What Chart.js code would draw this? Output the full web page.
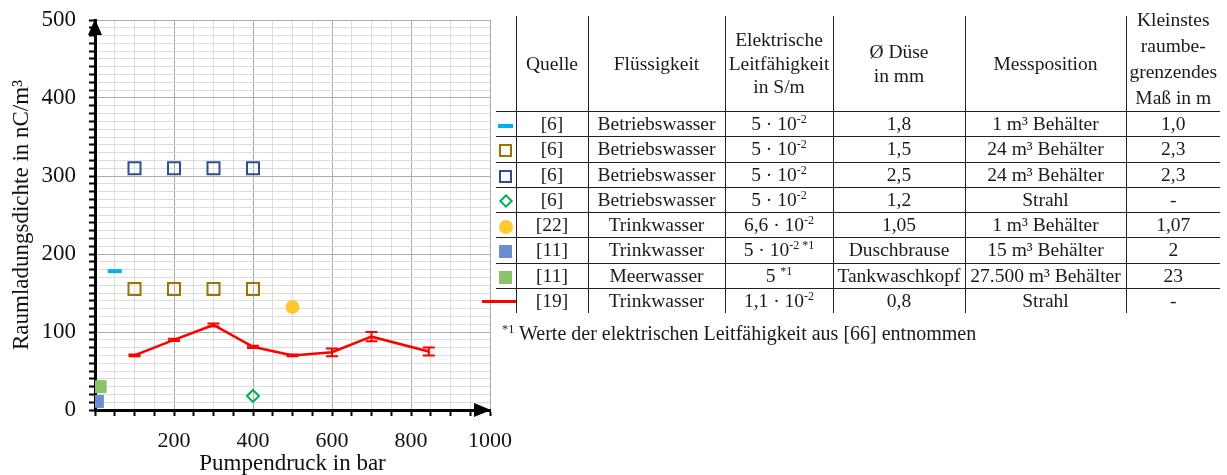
<!DOCTYPE html>
<html>
<head>
<meta charset="utf-8">
<script src="https://cdn.jsdelivr.net/npm/chart.js@4.4.1/dist/chart.umd.min.js"></script>
<style>
  body { margin: 0; background: #fff; width: 1227px; height: 475px; overflow: hidden; position: relative;
         font-family: "Liberation Serif", serif; color: #1a1a1a; }
  #wrap { position: absolute; left: 0; top: 0; width: 515px; height: 475px; }
  table { position: absolute; left: 496px; top: 16px; border-collapse: collapse; table-layout: fixed; font-size: 19.5px; }
  td, th { padding: 0; text-align: center; white-space: nowrap; font-weight: normal; }
  th { height: 95px; line-height: 23.5px; vertical-align: middle; }
  td { height: 24.25px; line-height: 24px; }
  td + td, th + th { border-left: 1px solid #222; }
  tbody td { border-top: 1px solid #222; }
  sup { font-size: 0.62em; line-height: 0; vertical-align: 0.55em; }
  .mk { position: relative; }
  .mk span { display: inline-block; vertical-align: middle; box-sizing: border-box; }
  th.top { vertical-align: top; }
  #kl { line-height: 26px; margin-top: -9px; margin-bottom: -20px; }
  #note { position: absolute; left: 502px; top: 322px; font-size: 20px; white-space: nowrap; }
</style>
</head>
<body>
<div id="wrap"><canvas id="c" width="515" height="475"></canvas></div>
<table id="tab"></table>
<div id="note"><sup>*1</sup> Werte der elektrischen Leitfähigkeit aus [66] entnommen</div>
<script>
// Pumpendruck (bar) / Raumladungsdichte (nC/m³)
const pressCyan = [50];
const chargeCyan = [178];
const pressBrown = [100, 200, 300, 400];
const chargeBrown = [155, 155, 155, 155];
const pressNavy = [100, 200, 300, 400];
const chargeNavy = [310, 310, 310, 310];
const pressDiamond = [400];
const chargeDiamond = [18];
const pressYellow = [500];
const chargeYellow = [132];
const pressBlue = [6];
const chargeBlue = [11];
const pressGreen = [13];
const chargeGreen = [30];
const pressRed = [100, 200, 300, 400, 500, 600, 700, 845];
const chargeRed = [70, 90, 109, 81, 70, 74, 94, 75];
const errRed = [1, 1.5, 2, 1.5, 1, 5, 6, 5];

const xTickLabels = [200, 400, 600, 800, 1000];
const yTickLabels = [0, 100, 200, 300, 400, 500];

// table
const headers = ['', 'Quelle', 'Flüssigkeit', 'Elektrische<br>Leitfähigkeit<br>in S/m', 'Ø Düse<br>in mm',
  'Messposition', '<div id="kl">Kleinstes<br>raumbe-<br>grenzendes<br>Maß in m</div>'];
const sources = ['[6]', '[6]', '[6]', '[6]', '[22]', '[11]', '[11]', '[19]'];
const liquids = ['Betriebswasser', 'Betriebswasser', 'Betriebswasser', 'Betriebswasser',
  'Trinkwasser', 'Trinkwasser', 'Meerwasser', 'Trinkwasser'];
const conductivity = ['5 · 10<sup>-2</sup>', '5 · 10<sup>-2</sup>', '5 · 10<sup>-2</sup>', '5 · 10<sup>-2</sup>',
  '6,6 · 10<sup>-2</sup>', '5 · 10<sup>-2 *1</sup>', '5 <sup>*1</sup>', '1,1 · 10<sup>-2</sup>'];
const nozzles = ['1,8', '1,5', '2,5', '1,2', '1,05', 'Duschbrause', 'Tankwaschkopf', '0,8'];
const positions = ['1 m³ Behälter', '24 m³ Behälter', '24 m³ Behälter', 'Strahl', '1 m³ Behälter',
  '15 m³ Behälter', '27.500 m³ Behälter', 'Strahl'];
const minSizes = ['1,0', '2,3', '2,3', '-', '1,07', '2', '23', '-'];
const colWidths = [20, 72, 137, 108, 132, 161, 94];

const cyan = '#00B0F0', brown = '#9A7400', navy = '#2F4E8C', green = '#00B050',
  yellow = '#FFC832', blue = '#6A8ED0', lightGreen = '#8CC26A', red = '#FF0000';

const markers = [
  `<span style="width:15px;height:4px;background:${cyan}"></span>`,
  `<span style="width:13px;height:13px;border:2px solid ${brown}"></span>`,
  `<span style="width:13px;height:13px;border:2px solid ${navy}"></span>`,
  `<span style="width:10px;height:10px;border:2px solid ${green};transform:rotate(45deg)"></span>`,
  `<span style="width:14px;height:14px;border-radius:50%;background:${yellow}"></span>`,
  `<span style="width:13px;height:13px;background:${blue}"></span>`,
  `<span style="width:13px;height:13px;background:${lightGreen}"></span>`,
  `<span style="position:absolute;left:-14px;top:11px;width:34px;height:3px;background:${red}"></span>`
];

let html = '<colgroup>' + colWidths.map(w => `<col style="width:${w}px">`).join('') + '</colgroup>';
html += '<thead><tr>' + headers.map((h, i) => `<th${i === headers.length - 1 ? ' class="top"' : ''}>${h}</th>`).join('') +
  '</tr></thead><tbody>';
sources.forEach((s, i) => {
  html += `<tr><td class="mk">${markers[i]}</td><td>${s}</td><td>${liquids[i]}</td><td>${conductivity[i]}</td>` +
    `<td>${nozzles[i]}</td><td>${positions[i]}</td><td>${minSizes[i]}</td></tr>`;
});
html += '</tbody>';
document.getElementById('tab').innerHTML = html;

const family = "'Liberation Serif', serif";
const toPts = (xs, ys) => xs.map((x, i) => ({ x: x, y: ys[i] }));

const errorBars = {
  id: 'errorBars',
  afterDatasetsDraw(chart) {
    const meta = chart.getDatasetMeta(chart.data.datasets.length - 1);
    const y = chart.scales.y;
    const ctx = chart.ctx;
    ctx.save();
    ctx.strokeStyle = red;
    ctx.lineWidth = 2;
    meta.data.forEach((pt, i) => {
      const top = y.getPixelForValue(chargeRed[i] + errRed[i]);
      const bot = y.getPixelForValue(chargeRed[i] - errRed[i]);
      ctx.beginPath();
      ctx.moveTo(pt.x, top); ctx.lineTo(pt.x, bot);
      ctx.moveTo(pt.x - 6, top); ctx.lineTo(pt.x + 6, top);
      ctx.moveTo(pt.x - 6, bot); ctx.lineTo(pt.x + 6, bot);
      ctx.stroke();
    });
    ctx.restore();
  }
};

const axisArrows = {
  id: 'axisArrows',
  afterDraw(chart) {
    const { left, top, right, bottom } = chart.chartArea;
    const ctx = chart.ctx;
    ctx.save();
    ctx.fillStyle = '#000';
    ctx.beginPath();
    ctx.moveTo(left, top - 1); ctx.lineTo(left - 7, top + 15); ctx.lineTo(left + 7, top + 15);
    ctx.closePath(); ctx.fill();
    ctx.beginPath();
    ctx.moveTo(right + 1, bottom); ctx.lineTo(right - 16, bottom - 7); ctx.lineTo(right - 16, bottom + 7);
    ctx.closePath(); ctx.fill();
    ctx.restore();
  }
};

new Chart(document.getElementById('c'), {
  type: 'scatter',
  data: {
    datasets: [
      { data: toPts(pressCyan, chargeCyan), pointStyle: 'line', pointRadius: 7, pointBorderWidth: 4,
        borderColor: cyan, backgroundColor: cyan },
      { data: toPts(pressBrown, chargeBrown), pointStyle: 'rect', pointRadius: 8.5, pointBorderWidth: 2,
        borderColor: brown, backgroundColor: 'rgba(255,255,255,0)' },
      { data: toPts(pressNavy, chargeNavy), pointStyle: 'rect', pointRadius: 8.5, pointBorderWidth: 2,
        borderColor: navy, backgroundColor: 'rgba(255,255,255,0)' },
      { data: toPts(pressDiamond, chargeDiamond), pointStyle: 'rectRot', pointRadius: 6, pointBorderWidth: 2,
        borderColor: green, backgroundColor: 'rgba(255,255,255,0)' },
      { data: toPts(pressYellow, chargeYellow), pointStyle: 'circle', pointRadius: 7, pointBorderWidth: 0,
        borderColor: yellow, backgroundColor: yellow },
      { data: toPts(pressBlue, chargeBlue), pointStyle: 'rect', pointRadius: 9.2, pointBorderWidth: 0,
        borderColor: blue, backgroundColor: blue },
      { data: toPts(pressGreen, chargeGreen), pointStyle: 'rect', pointRadius: 9.2, pointBorderWidth: 0,
        borderColor: lightGreen, backgroundColor: lightGreen },
      { data: toPts(pressRed, chargeRed), showLine: true, borderColor: red, borderWidth: 2.5,
        pointRadius: 0, tension: 0 }
    ]
  },
  options: {
    responsive: false,
    animation: false,
    plugins: { legend: { display: false }, tooltip: { enabled: false } },
    layout: { padding: { top: 20, right: 25, left: 0, bottom: 0 } },
    scales: {
      x: {
        type: 'linear', min: 0, max: 1000,
        afterFit: s => { s.height = 65; s.paddingLeft = 0; s.paddingRight = 0; },
        border: { color: '#000', width: 3 },
        grid: {
          color: c => (c.tick && c.tick.value % 200 === 0) ? '#ABABAB' : '#DCDCDC',
          lineWidth: 1, tickColor: '#000', tickLength: 6, tickWidth: 2
        },
        ticks: {
          stepSize: 50, autoSkip: false, maxRotation: 0, padding: 12, color: '#111',
          font: { family: family, size: 22 },
          callback: v => xTickLabels.includes(v) ? String(v) : ''
        },
        title: { display: true, text: 'Pumpendruck in bar', color: '#111',
          font: { family: family, size: 23, lineHeight: 1 }, padding: 0 }
      },
      y: {
        type: 'linear', min: 0, max: 500,
        afterFit: s => { s.width = 95; s.paddingTop = 0; s.paddingBottom = 0; },
        border: { color: '#000', width: 3 },
        grid: {
          color: c => (c.tick && c.tick.value % 100 === 0) ? '#ABABAB' : '#DCDCDC',
          lineWidth: 1, tickColor: '#000', tickLength: 6, tickWidth: 2
        },
        ticks: {
          stepSize: 10, autoSkip: false, padding: 13, color: '#111',
          font: { family: family, size: 23 },
          callback: v => yTickLabels.includes(v) ? String(v) : ''
        },
        title: { display: true, text: 'Raumladungsdichte in nC/m³', color: '#111',
          font: { family: family, size: 23, lineHeight: 1 }, padding: { top: 10.5, bottom: 0 } }
      }
    }
  },
  plugins: [errorBars, axisArrows]
});
</script>
</body>
</html>
